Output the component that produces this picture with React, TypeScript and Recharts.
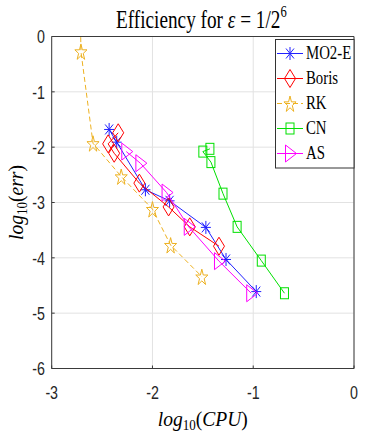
import React from 'react';
import { ComposedChart, Scatter, XAxis, YAxis, CartesianGrid, Legend } from 'recharts';

// ---- data ----
const xTicks = [-3, -2, -1, 0];
const yTicks = [0, -1, -2, -3, -4, -5, -6];

const mo2eCpu = [-2.43, -2.355, -2.07, -1.83, -1.47, -1.27, -0.97];
const mo2eErr = [-1.68, -1.91, -2.77, -2.97, -3.45, -4.03, -4.61];

const borisCpu = [-2.34, -2.44, -2.38, -2.13, -1.84, -1.63, -1.34];
const borisErr = [-1.74, -1.94, -2.11, -2.65, -3.08, -3.44, -3.79];

const rkCpu = [-2.72, -2.71, -2.59, -2.31, -2.0, -1.82, -1.51];
const rkErr = [1.0, -0.27, -1.93, -2.53, -3.12, -3.77, -4.34];

const cnCpu = [-1.43, -1.5, -1.42, -1.3, -1.16, -0.92, -0.69];
const cnErr = [-2.03, -2.08, -2.27, -2.84, -3.44, -4.05, -4.64];

const asCpu = [-2.26, -2.12, -1.86, -1.64, -1.34, -1.02];
const asErr = [-2.08, -2.29, -2.82, -3.44, -4.06, -4.64];

const toPoints = (xs: number[], ys: number[]) => xs.map((x, i) => ({ x, y: ys[i] }));

type Kind = 'asterisk' | 'diamond' | 'star' | 'square' | 'triangle';

const series: { name: string; color: string; kind: Kind; dash?: string; data: { x: number; y: number }[] }[] = [
  { name: 'MO2-E', color: '#2020ff', kind: 'asterisk', data: toPoints(mo2eCpu, mo2eErr) },
  { name: 'Boris', color: '#ff0000', kind: 'diamond', data: toPoints(borisCpu, borisErr) },
  { name: 'RK', color: '#EDB120', kind: 'star', dash: '5 3', data: toPoints(rkCpu, rkErr) },
  { name: 'CN', color: '#00e000', kind: 'square', data: toPoints(cnCpu, cnErr) },
  { name: 'AS', color: '#ff00ff', kind: 'triangle', data: toPoints(asCpu, asErr) },
];

const SERIF = "'Liberation Serif', 'Times New Roman', serif";
const SANS = "'Liberation Sans', Arial, Helvetica, sans-serif";
const AXIS = '#3a3a3a';

function drawMarker(kind: Kind, cx: number, cy: number, color: string) {
  const common = { fill: 'none', stroke: color, strokeWidth: 1 };
  switch (kind) {
    case 'asterisk':
      return (
        <g {...common}>
          <line x1={cx} y1={cy - 6.5} x2={cx} y2={cy + 6.5} />
          <line x1={cx - 5} y1={cy} x2={cx + 5} y2={cy} />
          <line x1={cx - 4} y1={cy - 5} x2={cx + 4} y2={cy + 5} />
          <line x1={cx - 4} y1={cy + 5} x2={cx + 4} y2={cy - 5} />
        </g>
      );
    case 'diamond':
      return <polygon {...common} points={`${cx},${cy - 9} ${cx + 5.5},${cy} ${cx},${cy + 9} ${cx - 5.5},${cy}`} />;
    case 'star': {
      const pts: string[] = [];
      for (let k = 0; k < 10; k++) {
        const a = ((-90 + k * 36) * Math.PI) / 180;
        const r = k % 2 === 0 ? 8.5 : 8.5 * 0.382;
        pts.push(`${cx + r * Math.cos(a) * 0.75},${cy + r * Math.sin(a) + 1}`);
      }
      return <polygon {...common} points={pts.join(' ')} />;
    }
    case 'square':
      return <rect {...common} x={cx - 4} y={cy - 5.5} width={8} height={11} />;
    case 'triangle':
      return <polygon {...common} points={`${cx - 4.5},${cy - 8.5} ${cx + 6.5},${cy} ${cx - 4.5},${cy + 8.5}`} />;
  }
  return null;
}

const XTick = (props: any) => {
  const { x, y, payload } = props;
  return (
    <text transform={`translate(${x},${y + 30.5}) scale(0.75,1)`} textAnchor="middle" fontFamily={SANS} fontSize={19} fill="#262626">
      {String(payload.value)}
    </text>
  );
};

const YTick = (props: any) => {
  const { x, y, payload } = props;
  return (
    <text transform={`translate(${x - 6.7},${y + 6.8}) scale(0.75,1)`} textAnchor="end" fontFamily={SANS} fontSize={19} fill="#262626">
      {String(payload.value)}
    </text>
  );
};

const TitleLabel = (props: any) => {
  const vb = props.viewBox || { x: 51.7, width: 302.3 };
  const cx = vb.x + vb.width / 2;
  return (
    <g transform={`translate(${cx - 1.5},28) scale(0.74,1)`}>
      <text textAnchor="middle" fontFamily={SERIF} fontSize={26} fill="#000">
        {'Efficiency for '}
        <tspan fontStyle="italic">{'ε'}</tspan>
        {' = 1/2'}
        <tspan fontSize={17} dy={-11}>{'6'}</tspan>
      </text>
    </g>
  );
};

const XLabel = (props: any) => {
  const vb = props.viewBox || { x: 51.7, width: 302.3 };
  const cx = vb.x + vb.width / 2;
  return (
    <g transform={`translate(${cx},426) scale(0.93,1)`}>
      <text textAnchor="middle" fontFamily={SERIF} fontSize={21} fill="#000">
        <tspan fontStyle="italic">{'log'}</tspan>
        <tspan fontSize={14} dy={4}>{'10'}</tspan>
        <tspan dy={-4}>{'('}</tspan>
        <tspan fontStyle="italic">{'CPU'}</tspan>
        {')'}
      </text>
    </g>
  );
};

const YLabel = (props: any) => {
  const vb = props.viewBox || { y: 36.5, height: 332 };
  const cy = vb.y + vb.height / 2;
  return (
    <g transform={`translate(23,${cy}) rotate(-90) scale(0.93,1)`}>
      <text textAnchor="middle" fontFamily={SERIF} fontSize={21} fill="#000">
        <tspan fontStyle="italic">{'log'}</tspan>
        <tspan fontSize={14} dy={4}>{'10'}</tspan>
        <tspan dy={-4}>{'('}</tspan>
        <tspan fontStyle="italic">{'err'}</tspan>
        {')'}
      </text>
    </g>
  );
};

const LegendBox = () => (
  <svg width={80} height={130} style={{ display: 'block' }}>
    <rect x={0.5} y={0.5} width={78.5} height={128.5} fill="#fff" stroke="#333" strokeWidth={1} />
    {series.map((s, i) => {
      const cy = 14.5 + i * 25;
      return (
        <g key={s.name}>
          <line x1={2} x2={28} y1={cy} y2={cy} stroke={s.color} strokeWidth={1} strokeDasharray={s.dash} />
          {drawMarker(s.kind, 15, cy, s.color)}
          <text transform={`translate(31,${cy + 5.5}) scale(0.78,1)`} fontFamily={SERIF} fontSize={19} fill="#000">
            {s.name}
          </text>
        </g>
      );
    })}
  </svg>
);

export default function App() {
  return (
    <div style={{ position: 'absolute', left: 0, top: 0, width: 392, height: 436, background: '#fff' }}>
      <ComposedChart width={392} height={436} margin={{ top: 0, right: 0, bottom: 37.5, left: 11.7 }}>
        <CartesianGrid stroke="#e2e2e2" strokeWidth={1} />
        <XAxis
          type="number"
          dataKey="x"
          domain={[-3, 0]}
          ticks={xTicks}
          allowDataOverflow
          height={30}
          tickSize={-3}
          tickMargin={3}
          tickLine={{ stroke: AXIS }}
          axisLine={{ stroke: AXIS, strokeWidth: 1 }}
          tick={<XTick />}
          label={XLabel}
        />
        <XAxis
          xAxisId="top"
          orientation="top"
          type="number"
          domain={[-3, 0]}
          ticks={xTicks}
          allowDataOverflow
          height={36.5}
          tick={false}
          tickSize={-3}
          tickMargin={3}
          axisLine={{ stroke: AXIS, strokeWidth: 1 }}
          tickLine={{ stroke: AXIS }}
          label={TitleLabel}
        />
        <YAxis
          type="number"
          dataKey="y"
          domain={[-6, 0]}
          ticks={yTicks}
          allowDataOverflow
          width={40}
          tickSize={-3}
          tickMargin={3}
          tickLine={{ stroke: AXIS }}
          axisLine={{ stroke: AXIS, strokeWidth: 1 }}
          tick={<YTick />}
          label={YLabel}
        />
        <YAxis
          yAxisId="right"
          orientation="right"
          type="number"
          domain={[-6, 0]}
          ticks={yTicks}
          allowDataOverflow
          width={38}
          tick={false}
          tickSize={-3}
          tickMargin={3}
          axisLine={{ stroke: AXIS, strokeWidth: 1 }}
          tickLine={{ stroke: AXIS }}
        />
        {series.map((s) => (
          <Scatter
            key={s.name}
            name={s.name}
            data={s.data}
            fill={s.color}
            isAnimationActive={false}
            line={{ stroke: s.color, strokeWidth: 1, strokeDasharray: s.dash }}
            lineJointType="linear"
            shape={(p: any) => drawMarker(s.kind, p.cx, p.cy, s.color)}
          />
        ))}
        <Legend
          layout="vertical"
          align="center"
          verticalAlign="middle"
          wrapperStyle={{ left: 275, top: 39, width: 80, height: 130 }}
          content={() => <LegendBox />}
        />
      </ComposedChart>
    </div>
  );
}
